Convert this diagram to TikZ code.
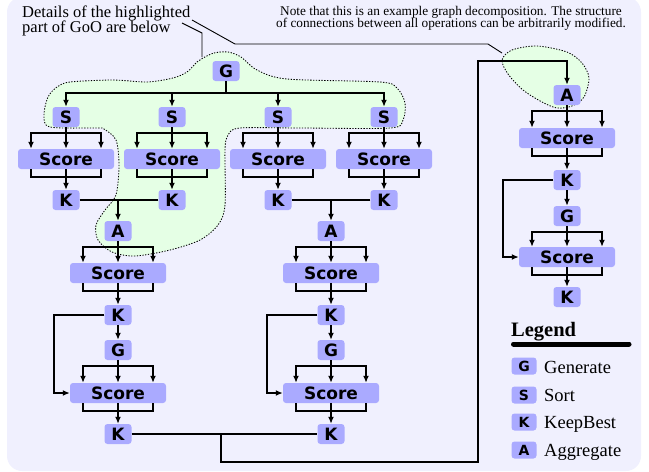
\documentclass[tikz,border=0pt]{standalone}
\usepackage{fontspec}
\setmainfont{Liberation Serif}
\newfontfamily\nodefont{DejaVu Sans}
\usetikzlibrary{arrows.meta,calc}
\definecolor{bgc}{RGB}{240,240,254}
\definecolor{blobc}{RGB}{229,255,229}
\definecolor{boxc}{RGB}{170,170,255}
\newcommand\opfan[2]{%
  \path ($(#1.south)+(0,6)$) coordinate (#1-bar);
  \draw[arr] (#1.south) -- (#2.north);
  \draw[arr] (#1-bar) -| ($(#2.north)+(-35,0)$);
  \draw[arr] (#1-bar) -| ($(#2.north)+(35,0)$);
}
\newcommand\opbrk[2]{%
  \draw[conn] ($(#1.south)+(-35,0)$) |- ($(#1.south)+(0,8)$) -| ($(#1.south)+(35,0)$);
  \draw[arr] (#1.south) -- (#2.north);
}
\begin{document}
\begin{tikzpicture}[x=1pt,y=-1pt,
  op/.style={fill=boxc, rounded corners=3pt, font=\nodefont\bfseries\fontsize{17}{17}\selectfont,
    minimum width=27pt, minimum height=20pt, inner sep=0pt},
  sc/.style={op, minimum width=96pt},
  lg/.style={op, minimum width=25pt, minimum height=17pt, font=\nodefont\bfseries\fontsize{14}{14}\selectfont},
  conn/.style={line width=1.9pt},
  arr/.style={conn, -{Latex[length=7pt,width=6pt]}},
  blob/.style={fill=blobc, draw=black, line width=0.85pt, dash pattern=on 1.3pt off 1.5pt},
  callout/.style={line width=0.9pt},
  txt/.style={anchor=base west, inner sep=0pt},
  ]
\useasboundingbox (0,0) rectangle (649,472);
\fill[bgc, rounded corners=15pt] (7,-3) rectangle (641,471);

% highlighted regions
\path[blob] plot[smooth cycle] coordinates {
  (203,58) (214,53) (228,52) (241,57) (257,70) (287,79) (380,82) (397,88)
  (405,103) (403,120) (390,128) (300,128) (240,128) (228,135) (225,150)
  (225,205) (218,225) (200,240) (170,250) (135,256) (112,252) (98,240)
  (96,225) (105,210) (116,195) (119,165) (116,140) (104,129) (97,128)
  (50,127) (44,115) (48,97) (57,87) (70,82) (113,80) (147,82) (173,78)
  (187,72) (197,62)};
\path[blob] plot[smooth cycle] coordinates {
  (502,60) (512,50) (537,46) (567,52) (582,63) (589,78) (584,97) (572,106)
  (557,108) (542,102) (523,90) (508,74)};

% callout lines
\draw[callout] (182,23) -- (202,33) -- (202,57);
\draw[callout] (192,20) -- (235,44) -- (488,44) -- (502,53);

% texts
\node[txt, font=\fontsize{16.5}{15}\selectfont] (t1) at (22,17) {Details of the highlighted};
\node[txt, font=\fontsize{16.5}{15}\selectfont] (t2) at (22,32) {part of GoO are below};
\node[anchor=base, inner sep=0pt, font=\fontsize{13.3}{12}\selectfont] (n1) at (451,15)
  {Note that this is an example graph decomposition. The structure};
\node[anchor=base, inner sep=0pt, font=\fontsize{13.3}{12}\selectfont] (n2) at (451,27)
  {of connections between all operations can be arbitrarily modified.};

% top part
\node[op] (G0) at (226,71) {G};
\node[op] (S1) at (66,117) {S};
\node[op] (S2) at (172,117) {S};
\node[op] (S3) at (278,117) {S};
\node[op] (S4) at (384,117) {S};
\node[sc] (C1) at (66,159) {Score};
\node[sc] (C2) at (172,159) {Score};
\node[sc] (C3) at (278,159) {Score};
\node[sc] (C4) at (384,159) {Score};
\node[op] (K1) at (66,200) {K};
\node[op] (K2) at (172,200) {K};
\node[op] (K3) at (278,200) {K};
\node[op] (K4) at (384,200) {K};

% left column
\node[op] (A5) at (118,231) {A};
\node[sc] (C5) at (118,273) {Score};
\node[op] (K5) at (118,315) {K};
\node[op] (G5) at (118,350) {G};
\node[sc] (C6) at (118,393) {Score};
\node[op] (K6) at (118,434) {K};

% middle column
\node[op] (A7) at (331,231) {A};
\node[sc] (C7) at (331,273) {Score};
\node[op] (K7) at (331,315) {K};
\node[op] (G7) at (331,350) {G};
\node[sc] (C8) at (331,393) {Score};
\node[op] (K8) at (331,434) {K};

% right column
\node[op] (A9) at (567,95) {A};
\node[sc] (C9) at (567,138) {Score};
\node[op] (K9) at (567,180) {K};
\node[op] (G9) at (567,216) {G};
\node[sc] (C10) at (567,257) {Score};
\node[op] (K10) at (567,297) {K};

% connections
\path ($(G0.south)+(0,12)$) coordinate (gbar);
\draw[conn] (G0.south) -- (gbar);
\foreach \s in {S1,S2,S3,S4} \draw[arr] (gbar) -| (\s.north);

\opfan{S1}{C1} \opfan{S2}{C2} \opfan{S3}{C3} \opfan{S4}{C4}
\opbrk{C1}{K1} \opbrk{C2}{K2} \opbrk{C3}{K3} \opbrk{C4}{K4}

\draw[arr] (K1.east) -| (A5.north);
\draw[conn] (K2.west) -- (K2.west -| A5.north);
\draw[arr] (K3.east) -| (A7.north);
\draw[conn] (K4.west) -- (K4.west -| A7.north);

\opfan{A5}{C5} \opbrk{C5}{K5} \draw[arr] (K5) -- (G5);
\opfan{G5}{C6} \opbrk{C6}{K6}
\draw[arr] (K5.west) -- ++(-50,0) |- (C6.west);

\opfan{A7}{C7} \opbrk{C7}{K7} \draw[arr] (K7) -- (G7);
\opfan{G7}{C8} \opbrk{C8}{K8}
\draw[arr] (K7.west) -- ++(-50,0) |- (C8.west);

\opfan{A9}{C9} \opbrk{C9}{K9} \draw[arr] (K9) -- (G9);
\opfan{G9}{C10} \opbrk{C10}{K10}
\draw[arr] (K9.west) -- ++(-50,0) |- (C10.west);

\draw[conn] (K6.east) -- (K8.west);
\coordinate (rt) at (478,61);
\draw[arr] ($(K6.east)!0.48!(K8.west)$) -- ++(0,28) -| (rt) -| (A9.north);

% legend
\node[txt, font=\bfseries\fontsize{20.5}{20}\selectfont] (lgt) at (511,336) {Legend};
\draw[line width=5pt, line cap=round] (513.5,344) -- (629,344);
\node[lg] (lG) at (524,366) {G};
\node[lg] (lS) at (524,395) {S};
\node[lg] (lK) at (524,422) {K};
\node[lg] (lA) at (524,450) {A};
\node[txt, font=\fontsize{18.5}{18}\selectfont] (tG) at (544,373) {Generate};
\node[txt, font=\fontsize{18.5}{18}\selectfont] (tS) at (544,401) {Sort};
\node[txt, font=\fontsize{18.5}{18}\selectfont] (tK) at (544,428) {KeepBest};
\node[txt, font=\fontsize{18.5}{18}\selectfont] (tA) at (544,456) {Aggregate};
\end{tikzpicture}
\end{document}
